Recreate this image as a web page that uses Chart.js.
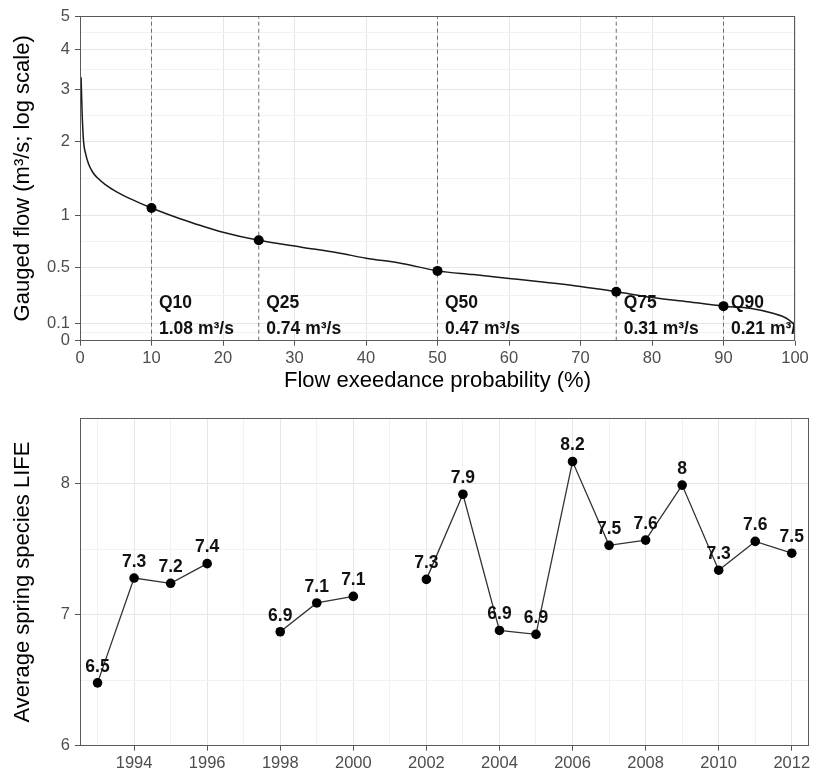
<!DOCTYPE html>
<html><head><meta charset="utf-8">
<script src="https://cdn.jsdelivr.net/npm/chart.js@4.4.1/dist/chart.umd.min.js"></script>
<style>body{margin:0;background:#fff}canvas{display:block}</style>
</head><body>
<canvas id="topChart" width="825" height="400"></canvas>
<canvas id="bottomChart" width="825" height="371"></canvas>
<script>
// ---------- Flow duration curve (top panel) ----------
const exceedance = [0.15, 0.3, 0.5, 0.8, 1.2, 1.8, 2.5, 3.5, 5, 7, 10, 14, 17, 20, 25, 31, 36, 40, 45, 50, 55, 60, 65, 70, 75, 80, 85, 90, 93.7, 96.9, 98.8, 100];
const flow = [3.28, 2.5, 2.0, 1.8, 1.65, 1.53, 1.45, 1.37, 1.28, 1.19, 1.08, 0.96, 0.885, 0.82, 0.74, 0.675, 0.625, 0.577, 0.532, 0.47, 0.44, 0.41, 0.38, 0.348, 0.31, 0.27, 0.24, 0.21, 0.196, 0.163, 0.132, 0.09];
const quantileNames = ['Q10', 'Q25', 'Q50', 'Q75', 'Q90'];
const quantileProb = [10, 25, 50, 75, 90];
const quantileFlow = [1.08, 0.74, 0.47, 0.31, 0.21];
const flowTicks = [0, 0.1, 0.5, 1, 2, 3, 4, 5];
const probTicks = [0, 10, 20, 30, 40, 50, 60, 70, 80, 90, 100];

// ---------- Spring LIFE (bottom panel) ----------
const years = [1993, 1994, 1995, 1996, 1997, 1998, 1999, 2000, 2001, 2002, 2003, 2004, 2005, 2006, 2007, 2008, 2009, 2010, 2011, 2012];
const lifeScores = [6.48, 7.28, 7.24, 7.39, null, 6.87, 7.09, 7.14, null, 7.27, 7.92, 6.88, 6.85, 8.17, 7.53, 7.57, 7.99, 7.34, 7.56, 7.47];
const lifeTicks = [6, 7, 8];
const yearTickLabels = [1994, 1996, 1998, 2000, 2002, 2004, 2006, 2008, 2010, 2012];

const FONT = '"Liberation Sans", Arial, Helvetica, sans-serif';
const TICK_COLOR = '#4d4d4d';
const GRID_MAJOR = '#e6e6e6';
const GRID_MINOR = '#f2f2f2';
const AXIS_TICK = '#555';
Chart.defaults.font.family = FONT;
Chart.defaults.animation = false;

const tf = v => Math.log1p(v);
const majorT = flowTicks.map(tf);
const minorT = [];
for (let i = 0; i < majorT.length - 1; i++) minorT.push((majorT[i] + majorT[i + 1]) / 2);
const isMajorT = v => majorT.some(m => Math.abs(m - v) < 1e-9);

const borderPlugin = {
  id: 'panelBorder',
  afterDraw(chart) {
    const a = chart.chartArea, ctx = chart.ctx;
    ctx.save();
    ctx.strokeStyle = '#5a5a5a';
    ctx.lineWidth = 1;
    const l = Math.round(a.left) + 0.5, r = Math.round(a.right) - 0.5;
    const t = Math.round(a.top) + 0.5, b = Math.round(a.bottom) - 0.5;
    ctx.strokeRect(l, t, r - l, b - t);
    ctx.restore();
  }
};

const quantileLabelPlugin = {
  id: 'quantileLabels',
  afterDatasetsDraw(chart) {
    const a = chart.chartArea, ctx = chart.ctx;
    const xs = chart.scales.x, ys = chart.scales.y;
    ctx.save();
    ctx.beginPath();
    ctx.rect(a.left, a.top, a.right - a.left, a.bottom - a.top);
    ctx.clip();
    ctx.fillStyle = '#111';
    ctx.font = 'bold 17.5px ' + FONT;
    ctx.textAlign = 'left';
    ctx.textBaseline = 'middle';
    const yName = ys.getPixelForValue(tf(0.228));
    const yVal = ys.getPixelForValue(tf(0.064));
    quantileProb.forEach((p, i) => {
      const x = xs.getPixelForValue(p) + 7.5;
      ctx.fillText(quantileNames[i], x, yName);
      ctx.fillText(quantileFlow[i].toFixed(2) + ' m³/s', x, yVal);
    });
    ctx.restore();
  }
};

const pointLabelPlugin = {
  id: 'pointLabels',
  afterDatasetsDraw(chart) {
    const ctx = chart.ctx;
    const meta = chart.getDatasetMeta(0);
    ctx.save();
    ctx.fillStyle = '#111';
    ctx.font = 'bold 17.5px ' + FONT;
    ctx.textAlign = 'center';
    ctx.textBaseline = 'middle';
    meta.data.forEach((el, i) => {
      const v = lifeScores[i];
      if (v === null || el.skip) return;
      ctx.fillText(String(Math.round(v * 10) / 10), el.x, el.y - 16);
    });
    ctx.restore();
  }
};

// ---------- Top chart ----------
const topDatasets = [
  {
    type: 'scatter',
    data: quantileProb.map((p, i) => ({x: p, y: tf(quantileFlow[i])})),
    pointRadius: 5, pointBackgroundColor: '#000', pointBorderWidth: 0, showLine: false
  },
  {
    type: 'line',
    data: exceedance.map((p, i) => ({x: p, y: tf(flow[i])})),
    borderColor: '#1a1a1a', borderWidth: 1.5, pointRadius: 0,
    cubicInterpolationMode: 'monotone', fill: false
  }
];
quantileProb.forEach(p => {
  topDatasets.push({
    type: 'line',
    data: [{x: p, y: 0}, {x: p, y: tf(5)}],
    borderColor: '#6e6e6e', borderWidth: 1, borderDash: [4, 3], pointRadius: 0, fill: false
  });
});

new Chart(document.getElementById('topChart'), {
  type: 'line',
  data: {datasets: topDatasets},
  options: {
    responsive: false,
    layout: {padding: {top: 16, right: 30, bottom: 0, left: 0}},
    plugins: {legend: {display: false}, tooltip: {enabled: false}},
    scales: {
      x: {
        type: 'linear', min: 0, max: 100,
        afterBuildTicks(s) { s.ticks = probTicks.map(v => ({value: v})); },
        ticks: {color: TICK_COLOR, font: {size: 16.5}, padding: 3, maxRotation: 0, autoSkip: false},
        grid: {color: GRID_MAJOR, lineWidth: 1, tickLength: 5, tickColor: AXIS_TICK},
        border: {display: false},
        title: {display: true, text: 'Flow exeedance probability (%)', color: '#000', font: {size: 22}, padding: {top: 0, bottom: 6}},
        afterFit(s) { s.height = 59.3; s.paddingLeft = 0; s.paddingRight = 0; }
      },
      y: {
        type: 'linear', min: 0, max: tf(5),
        afterBuildTicks(s) {
          s.ticks = majorT.concat(minorT).sort((a, b) => a - b).map(v => ({value: v}));
        },
        ticks: {
          color: TICK_COLOR, font: {size: 16.5}, padding: 5, autoSkip: false,
          callback(v) {
            const i = majorT.findIndex(m => Math.abs(m - v) < 1e-9);
            return i >= 0 ? String(flowTicks[i]) : '';
          }
        },
        grid: {
          color: c => (c.tick && isMajorT(c.tick.value)) ? GRID_MAJOR : GRID_MINOR,
          tickColor: c => (c.tick && isMajorT(c.tick.value)) ? AXIS_TICK : 'rgba(0,0,0,0)',
          lineWidth: 1, tickLength: 5
        },
        border: {display: false},
        title: {display: true, text: 'Gauged flow (m³/s; log scale)', color: '#000', font: {size: 22}, padding: {top: 10, bottom: 0}},
        afterFit(s) { s.width = 80; s.paddingTop = 0; s.paddingBottom = 0; }
      }
    }
  },
  plugins: [quantileLabelPlugin, borderPlugin]
});

// ---------- Bottom chart ----------
new Chart(document.getElementById('bottomChart'), {
  type: 'line',
  data: {
    datasets: [{
      data: years.map((yr, i) => ({x: yr, y: lifeScores[i]})),
      borderColor: '#333', borderWidth: 1.3, spanGaps: false,
      pointRadius: 4.8, pointBackgroundColor: '#000', pointBorderWidth: 0, tension: 0
    }]
  },
  options: {
    responsive: false,
    layout: {padding: {top: 18.3, right: 15.7, bottom: 0, left: 0}},
    plugins: {legend: {display: false}, tooltip: {enabled: false}},
    scales: {
      x: {
        type: 'linear', min: 1992.52, max: 2012.48,
        afterBuildTicks(s) { s.ticks = years.map(v => ({value: v})); },
        ticks: {
          color: TICK_COLOR, font: {size: 16.5}, padding: 3, maxRotation: 0, autoSkip: false,
          callback(v) { return yearTickLabels.includes(v) ? String(v) : ''; }
        },
        grid: {
          color: c => (c.tick && yearTickLabels.includes(c.tick.value)) ? GRID_MAJOR : GRID_MINOR,
          tickColor: c => (c.tick && yearTickLabels.includes(c.tick.value)) ? AXIS_TICK : 'rgba(0,0,0,0)',
          lineWidth: 1, tickLength: 5
        },
        border: {display: false},
        afterFit(s) { s.height = 25.3; s.paddingLeft = 0; s.paddingRight = 0; }
      },
      y: {
        type: 'linear', min: 6, max: 8.5,
        afterBuildTicks(s) {
          const t = [];
          lifeTicks.forEach(v => { t.push(v); t.push(v + 0.5); });
          s.ticks = t.map(v => ({value: v}));
        },
        ticks: {
          color: TICK_COLOR, font: {size: 16.5}, padding: 5, autoSkip: false,
          callback(v) { return lifeTicks.includes(v) ? String(v) : ''; }
        },
        grid: {
          color: c => (c.tick && lifeTicks.includes(c.tick.value)) ? GRID_MAJOR : GRID_MINOR,
          tickColor: c => (c.tick && lifeTicks.includes(c.tick.value)) ? AXIS_TICK : 'rgba(0,0,0,0)',
          lineWidth: 1, tickLength: 5
        },
        border: {display: false},
        title: {display: true, text: 'Average spring species LIFE', color: '#000', font: {size: 22}, padding: {top: 10, bottom: 0}},
        afterFit(s) { s.width = 80; s.paddingTop = 0; s.paddingBottom = 0; }
      }
    }
  },
  plugins: [pointLabelPlugin, borderPlugin]
});
</script>
</body></html>
